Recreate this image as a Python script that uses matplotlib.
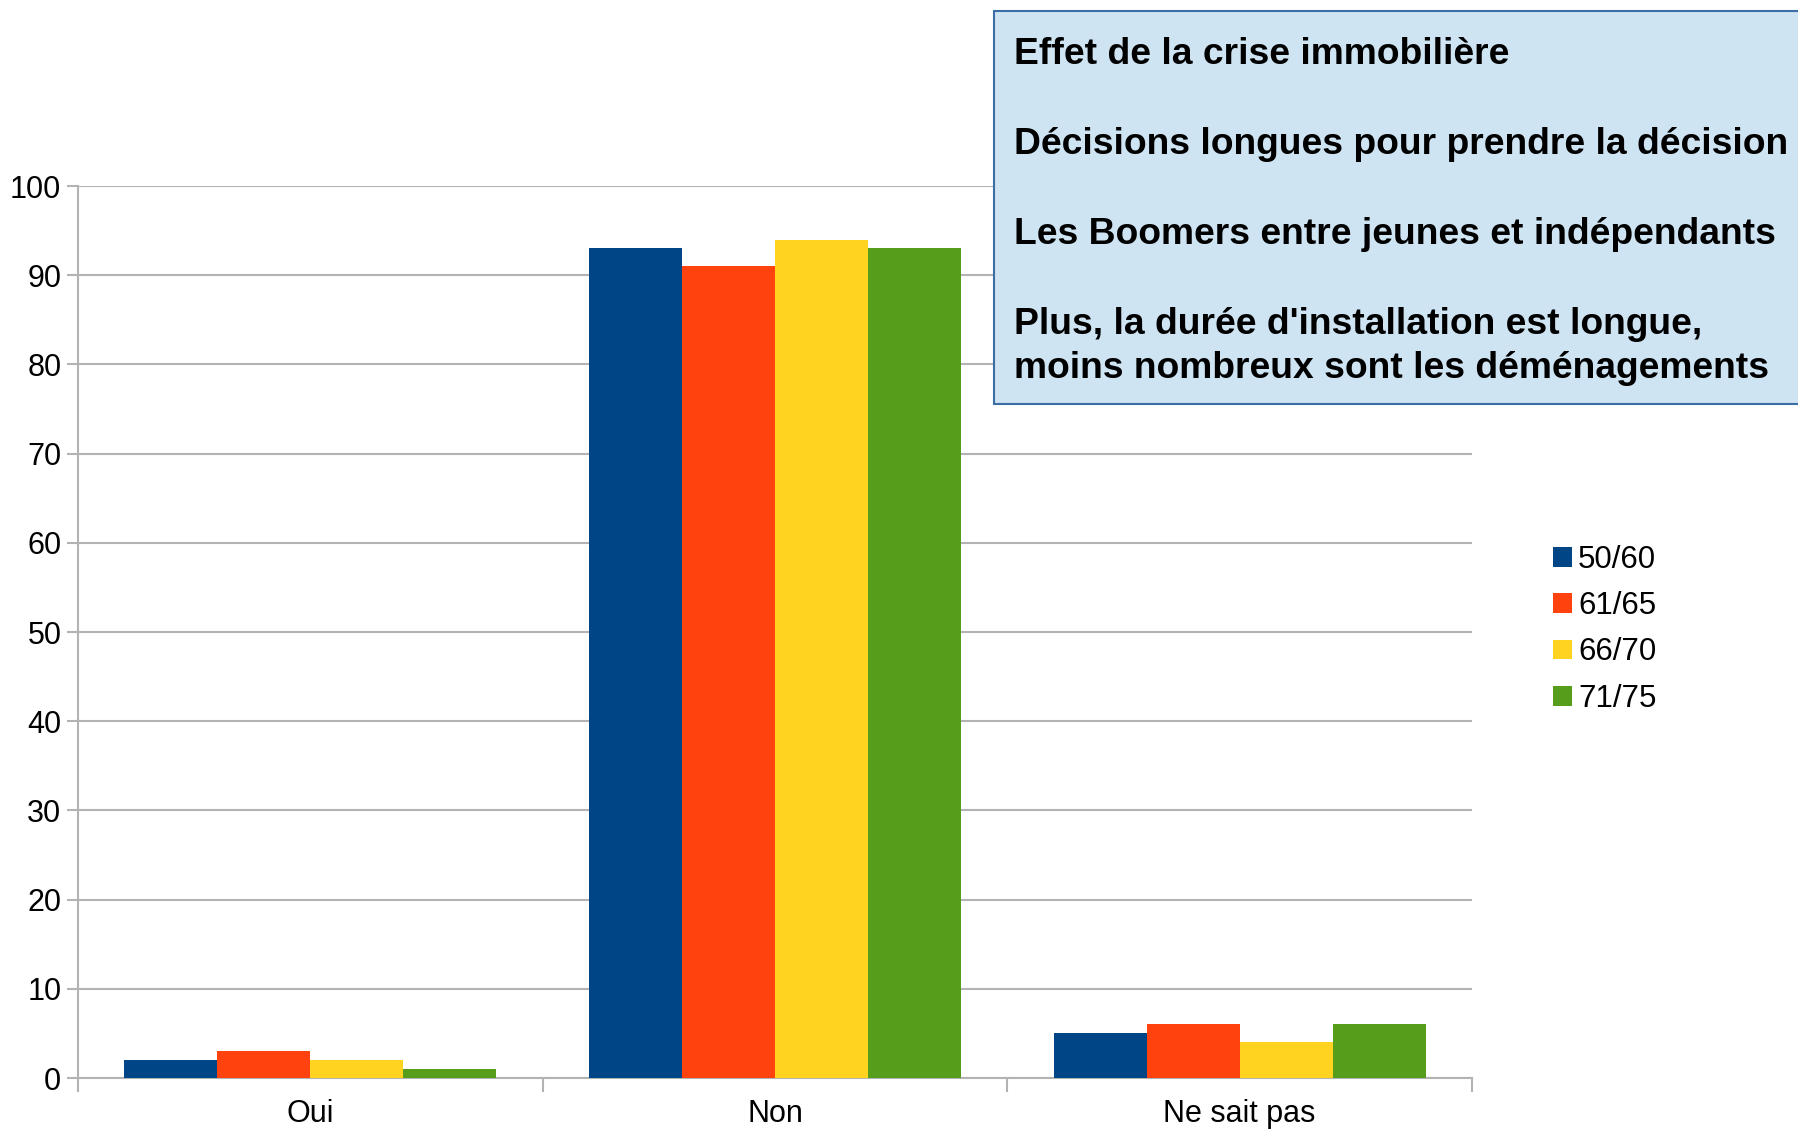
import matplotlib
matplotlib.use("Agg")
import matplotlib.pyplot as plt
from matplotlib.patches import Rectangle
import numpy as np

plt.rcParams["font.family"] = ["Liberation Sans", "DejaVu Sans"]

categories = ["Oui", "Non", "Ne sait pas"]
groups = ["50/60", "61/65", "66/70", "71/75"]
values = {
    "50/60": [2, 93, 5],
    "61/65": [3, 91, 6],
    "66/70": [2, 94, 4],
    "71/75": [1, 93, 6],
}
colors = ["#004586", "#ff420e", "#ffd320", "#579d1c"]
box_lines = [
    "Effet de la crise immobilière",
    "Décisions longues pour prendre la décision",
    "Les Boomers entre jeunes et indépendants",
    "Plus, la durée d'installation est longue,",
    "moins nombreux sont les déménagements",
]

W, H = 1798, 1131
fig = plt.figure(figsize=(W / 100, H / 100), dpi=100)
ax = fig.add_axes([78 / W, 1 - 1078 / H, (1472 - 78) / W, (1078 - 186) / H])

x = np.arange(len(categories))
bw = 0.2
for j, (g, c) in enumerate(zip(groups, colors)):
    ax.bar(x + (j - 1.5) * bw, values[g], bw, color=c, label=g, zorder=3)

ax.set_xlim(-0.5, 2.5)
ax.set_ylim(0, 100)
ax.set_yticks(range(0, 101, 10))
grid_col = "#b3b3b3"
ax.yaxis.grid(True, color=grid_col, linewidth=1.5, zorder=0)
for s in ["top", "right"]:
    ax.spines[s].set_visible(False)
for s in ["left", "bottom"]:
    ax.spines[s].set_color(grid_col)
    ax.spines[s].set_linewidth(1.5)
ax.tick_params(axis="y", colors=grid_col, labelcolor="#000000", length=8, width=1.5,
               labelsize=22, pad=4)
ax.set_xticks([-0.5, 0.5, 1.5, 2.5])
ax.set_xticklabels([])
ax.set_xticks(x, minor=True)
ax.set_xticklabels(categories, minor=True)
ax.tick_params(axis="x", which="major", colors=grid_col, length=10, width=1.5)
ax.tick_params(axis="x", which="minor", length=0, labelsize=22, pad=15)

fig.legend(loc="upper left", bbox_to_anchor=(1553 / W, 1 - 545 / H), frameon=False,
           fontsize=22.5, handlelength=0.6, handleheight=0.6, handletextpad=0.2,
           labelspacing=0.52, borderpad=0, borderaxespad=0)

# annotation box
fig.patches.append(Rectangle((994 / W, 1 - 404 / H), 830 / W, (404 - 11) / H,
                             transform=fig.transFigure, facecolor="#cfe4f3",
                             edgecolor="#3a6ea5", linewidth=1.5, zorder=5))
ys = [55, 145, 234, 325, 369]
for t, yy in zip(box_lines, ys):
    fig.text(1014 / W, 1 - yy / H, t, fontsize=26.8, fontweight="bold", va="center",
             ha="left", zorder=6)

fig.savefig("out.png", dpi=100)
